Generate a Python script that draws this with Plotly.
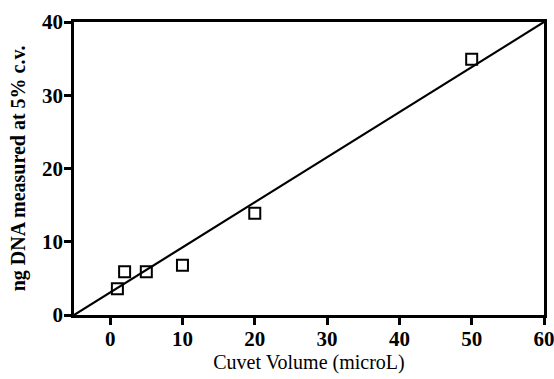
import plotly.graph_objects as go

cuvet_volume = [1, 2, 5, 10, 20, 50]
ng_dna = [3.6, 5.9, 5.9, 6.8, 13.9, 34.9]
fit_x = [-5, 60]
fit_y = [0, 40]
x_ticks = [0, 10, 20, 30, 40, 50, 60]
y_ticks = [0, 10, 20, 30, 40]

font_family = "Liberation Serif, Times New Roman, serif"

fig = go.Figure()
fig.add_trace(go.Scatter(x=fit_x, y=fit_y, mode="lines",
                         line=dict(color="black", width=2.2), showlegend=False))
fig.add_trace(go.Scatter(x=cuvet_volume, y=ng_dna, mode="markers",
                         marker=dict(symbol="square-open", size=11, color="black",
                                     line=dict(width=2, color="black")),
                         showlegend=False))

axis_common = dict(showgrid=False, zeroline=False, showline=True, linecolor="black",
                   linewidth=2.5, mirror=True, ticks="outside", ticklen=7,
                   tickwidth=2.5, tickcolor="black", automargin=False,
                   ticklabeloverflow="allow",
                   tickfont=dict(family=font_family, size=21, color="black", weight="bold"))

fig.update_xaxes(range=[-5, 60], tickvals=x_ticks, **axis_common,
                 ticklabelstandoff=-4,
                 title=dict(text="Cuvet Volume (microL)", standoff=4,
                            font=dict(family=font_family, size=20, color="black")))
fig.update_yaxes(range=[0, 40], tickvals=y_ticks, **axis_common,
                 ticklabelstandoff=-3,
                 title=dict(text="ng DNA measured at 5% c.v.", standoff=12,
                            font=dict(family=font_family, size=20, color="black", weight="bold")))

fig.update_layout(width=554, height=379, margin=dict(l=74, r=10, t=22, b=64),
                  plot_bgcolor="white", paper_bgcolor="white")

fig.write_html("out.html")
